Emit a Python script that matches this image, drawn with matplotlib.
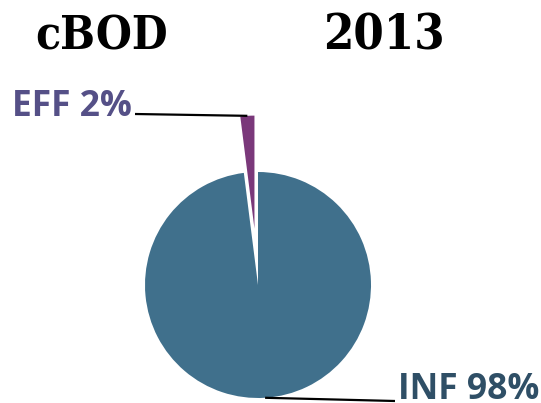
import matplotlib.pyplot as plt
import numpy as np

labels = ["EFF", "INF"]
shares = [2, 98]
explode = [0.5, 0]
colors = ["#7a387a", "#40708c"]
label_colors = ["#555087", "#2f4f66"]
title_left = "cBOD"
title_right = "2013"

W, H = 541, 403
R = 113.0
cx, cy = 258.0, 285.0


def px(x, y):
    # pixel position (from top-left) -> data coords
    return (x - cx) / R, (cy - y) / R


fig = plt.figure(figsize=(W / 100, H / 100), dpi=100)
ax = fig.add_axes([0, 0, 1, 1])

wedges, _ = ax.pie(shares, explode=explode, colors=colors, startangle=90,
                   counterclock=True, radius=1,
                   wedgeprops=dict(linewidth=0))
ax.set_aspect("auto")
ax.set_xlim((0 - cx) / R, (W - cx) / R)
ax.set_ylim((cy - H) / R, cy / R)
ax.axis("off")

# leader line end and text anchor for each label
line_end = [px(135, 114), px(395, 401)]
text_at = [px(132, 116), px(398, 399)]
aligns = ["right", "left"]

for w, lab, val, exp, tc, le, ta, ha in zip(wedges, labels, shares, explode,
                                            label_colors, line_end, text_at, aligns):
    ang = np.deg2rad((w.theta1 + w.theta2) / 2)
    r = 1 + exp
    xy = (r * np.cos(ang), r * np.sin(ang))
    ax.plot([xy[0], le[0]], [xy[1], le[1]], color="black", lw=1.6,
            solid_capstyle="butt")
    ax.text(ta[0], ta[1], f"{lab} {val}%", ha=ha, va="baseline",
            fontsize=25.5, fontweight="bold", color=tc, family="Open Sans")

fig.text(35 / W, 1 - 49 / H, title_left, fontsize=33, fontweight="bold",
         family="DejaVu Serif", fontstretch="condensed", ha="left", va="baseline")
fig.text(323 / W, 1 - 49 / H, title_right, fontsize=35, fontweight="bold",
         family="DejaVu Serif", fontstretch="condensed", ha="left", va="baseline")

fig.savefig("out.png", dpi=100)
